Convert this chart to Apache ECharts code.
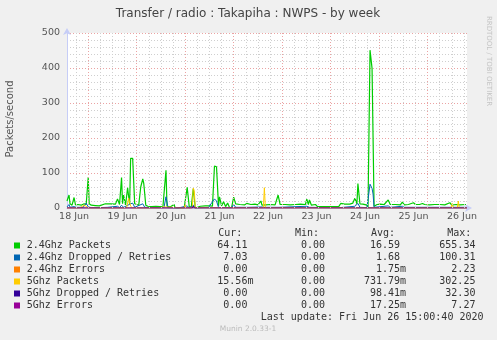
<!DOCTYPE html>
<html>
<head>
<meta charset="utf-8">
<script src="https://cdn.jsdelivr.net/npm/echarts@6/dist/echarts.min.js"></script>
<style>
  html, body { margin: 0; padding: 0; background: #f0f0f0; }
  #chart { width: 497px; height: 340px; }
</style>
</head>
<body>
<div id="chart"></div>
<script>
// x is hours from the left edge of the plot (30 min per pixel, week view)
const dayLabels = ['18 Jun', '19 Jun', '20 Jun', '21 Jun', '22 Jun', '23 Jun', '24 Jun', '25 Jun', '26 Jun']
const dayLabelHours = [3.5, 27.5, 51.5, 75.5, 99.5, 123.5, 147.5, 171.5, 195.5]

// [hour, packets/s]
const pkts24 = [
  [0, 20], [0.5, 22], [1, 37], [1.5, 12], [2.5, 8], [3.5, 30], [4.2, 9], [5.5, 10], [7, 8], [8.5, 12],
  [9.5, 10], [10.5, 88], [11, 12], [12, 8], [14, 7], [16, 6], [16.5, 11], [19, 12], [21.5, 12], [24, 11],
  [25, 26], [26, 10], [27, 87], [27.5, 12], [28, 37], [29, 9], [30, 58], [31, 10], [31.5, 142], [32.5, 142],
  [33.5, 12], [34.5, 10], [35.5, 8], [36.5, 60], [37.5, 83], [38, 70], [39, 8], [40, 5], [42, 4], [44, 5],
  [46, 4], [47.5, 5], [49, 108], [49.5, 5], [51, 3], [53, 10], [53.5, 1], [55, 0], [58, 0], [58.7, 3],
  [59.5, 59], [60.5, 4], [61.5, 2], [62.5, 55], [63.5, 0], [66, 5], [68.5, 6], [71, 6], [72, 5], [73, 120],
  [74, 118], [75, 6], [75.5, 32], [76.5, 6], [77.5, 18], [78.5, 4], [79.5, 14], [80.5, 1], [81.5, 2], [82.5, 31],
  [83.5, 12], [85.5, 10], [88, 9], [89, 13], [91, 10], [93, 11], [94.5, 9], [96, 20], [96.5, 8], [98.5, 9],
  [100.5, 10], [103, 9], [104.5, 37], [105.5, 10], [108, 10], [110.5, 9], [113, 10], [115.5, 11], [118, 10], [118.7, 25],
  [119.5, 10], [120, 23], [121, 8], [123, 10], [124, 4], [128, 4], [131, 4], [134.5, 4], [135.5, 13], [137.5, 11],
  [140, 11], [141.5, 14], [142.5, 28], [143.5, 12], [144, 70], [145, 12], [146.5, 11], [148.5, 8], [149, 0], [150, 451],
  [151, 399], [151.5, 396], [152, 5], [153.5, 10], [155, 11], [157, 10], [159, 23], [160, 10], [162.5, 10], [165, 9],
  [166, 17], [167, 9], [169, 10], [171.5, 15], [172.5, 10], [174.5, 10], [176, 13], [177, 10], [179.5, 9], [182, 10],
  [184.5, 10], [187, 9], [189.5, 15], [190.5, 8], [192.5, 10], [194.5, 9], [197.5, 10]
]
const drop24 = [
  [0, 3], [0.5, 8], [1, 10], [1.5, 2], [3.5, 4], [4, 6], [4.5, 2], [8, 2], [9.5, 14], [10.5, 3],
  [12, 1], [16, 1], [20, 2], [25, 5], [26, 1], [27, 8], [28, 2], [31.5, 12], [32.5, 14], [33.5, 2],
  [37.5, 12], [38.5, 2], [42, 1], [48, 1], [49, 32], [50, 1], [55, 0], [59.5, 6], [60.5, 0], [62.5, 8],
  [63.5, 0], [70, 1], [73, 26], [74, 20], [75, 2], [76, 1], [81.5, 1], [82.5, 10], [83.5, 2], [90, 2],
  [96.5, 3], [97.5, 2], [105, 2], [118.7, 5], [120, 2], [130, 1], [135, 1], [142.5, 5], [144, 13], [145, 2],
  [148.5, 1], [150, 68], [151, 56], [151.5, 40], [152, 2], [159, 6], [160, 2], [166, 5], [167, 2], [180, 2],
  [190, 2], [197.5, 2]
]
const err24 = [[0, 0], [60, 0], [62.5, 1], [63, 0], [198, 0]]
const pkts5 = [
  [0, 0], [6, 0], [7, 3], [8.5, 8], [9.5, 5], [10.5, 0], [29.5, 0], [30.5, 28], [31.5, 5], [32.5, 0],
  [45, 0], [45.5, 3], [48, 3], [48.5, 0], [58, 0], [58.5, 8], [59, 0], [62, 0], [62.5, 57], [63, 50],
  [63.5, 0], [97.2, 0], [97.7, 58], [98.2, 0], [190, 0], [190.7, 13], [191.3, 0], [193.2, 0], [193.7, 20], [194.2, 0],
  [198, 0]
]
const drop5 = [
  [0, 0], [30, 0], [30.5, 4], [31, 0], [62, 0], [62.5, 6], [63, 0], [97.2, 0], [97.7, 4], [98.2, 0],
  [149.5, 0], [150, 3], [150.5, 0], [198, 0]
]
const err5 = [[0, 0], [198, 0]]

const seriesNames = ['2.4Ghz Packets', '2.4Ghz Dropped / Retries', '2.4Ghz Errors', '5Ghz Packets', '5Ghz Dropped / Retries', '5Ghz Errors']
const curVals = ['64.11', '7.03', '0.00', '15.56m', '0.00', '0.00']
const minVals = ['0.00', '0.00', '0.00', '0.00', '0.00', '0.00']
const avgVals = ['16.59', '1.68', '1.75m', '731.79m', '98.41m', '17.25m']
const maxVals = ['655.34', '100.31', '2.23', '302.25', '32.30', '7.27']

const colors = ['#00cc00', '#0066b3', '#ff8000', '#ffcc00', '#330099', '#990099']
const seriesData = [pkts24, drop24, err24, pkts5, drop5, err5]

const chart = echarts.init(document.getElementById('chart'), null, { renderer: 'canvas' })

// vertical grid: red every day, grey every 6 h
const majorLines = []
const minorLines = []
for (let h = 4.5; h < 198; h += 6) {
  if ((h - 10.5) % 24 === 0) majorLines.push(h)
  else minorLines.push(h)
}

const mono = '10px "DejaVu Sans Mono"'
const txt = '#333'

const fmt = (v, w) => {
  const m = v.endsWith('m')
  const n = m ? v.slice(0, -1) : v
  return n.padStart(w) + (m ? 'm' : '')
}

const graphics = [
  { type: 'text', x: 248, y: 14, style: { text: 'Transfer / radio : Takapiha : NWPS - by week', font: '12px "DejaVu Sans"', fill: '#444', align: 'center', verticalAlign: 'middle' } },
  { type: 'text', x: 10.5, y: 119, rotation: Math.PI / 2, style: { text: 'Packets/second', font: '10px "DejaVu Sans"', fill: '#555', align: 'center', verticalAlign: 'middle' } },
  { type: 'text', x: 489, y: 61, rotation: -Math.PI / 2, style: { text: 'RRDTOOL / TOBI OETIKER', font: '7px "DejaVu Sans"', fill: '#c4c4c4', align: 'center', verticalAlign: 'middle' } },
  { type: 'text', x: 218.3, y: 233.3, style: { text: 'Cur:', font: mono, fill: txt, verticalAlign: 'middle' } },
  { type: 'text', x: 295, y: 233.3, style: { text: 'Min:', font: mono, fill: txt, verticalAlign: 'middle' } },
  { type: 'text', x: 371, y: 233.3, style: { text: 'Avg:', font: mono, fill: txt, verticalAlign: 'middle' } },
  { type: 'text', x: 447.3, y: 233.3, style: { text: 'Max:', font: mono, fill: txt, verticalAlign: 'middle' } },
  { type: 'text', x: 483.5, y: 317.3, style: { text: 'Last update: Fri Jun 26 15:00:40 2020', font: mono, fill: txt, align: 'right', verticalAlign: 'middle' } },
  { type: 'text', x: 248, y: 329.5, style: { text: 'Munin 2.0.33-1', font: '7.5px "DejaVu Sans"', fill: '#bbbbbb', align: 'center', verticalAlign: 'middle' } }
]
seriesNames.forEach((name, i) => {
  const y = 245.5 + i * 12
  graphics.push(
    { type: 'rect', shape: { x: 14, y: y - 3, width: 6, height: 6 }, style: { fill: colors[i] } },
    { type: 'text', x: 26.7, y: y, style: { text: name, font: mono, fill: txt, verticalAlign: 'middle' } },
    { type: 'text', x: 217.3, y: y, style: { text: fmt(curVals[i], 5), font: mono, fill: txt, verticalAlign: 'middle' } },
    { type: 'text', x: 295, y: y, style: { text: fmt(minVals[i], 5), font: mono, fill: txt, verticalAlign: 'middle' } },
    { type: 'text', x: 364, y: y, style: { text: fmt(avgVals[i], 6), font: mono, fill: txt, verticalAlign: 'middle' } },
    { type: 'text', x: 439.3, y: y, style: { text: fmt(maxVals[i], 6), font: mono, fill: txt, verticalAlign: 'middle' } }
  )
})

const gridSeries = {
  type: 'line',
  data: [],
  z: 1,
  silent: true,
  markLine: {
    silent: true,
    symbol: ['none', 'none'],
    label: { show: false },
    animation: false,
    data: [
      ...minorLines.map(h => ({ xAxis: h, lineStyle: { color: '#cfcfcf', width: 1, type: [1, 2] } })),
      ...majorLines.map(h => ({ xAxis: h, lineStyle: { color: '#eba3a3', width: 1, type: [1, 2] } }))
    ]
  }
}

const lineSeries = seriesData.map((d, i) => ({
  name: seriesNames[i],
  type: 'line',
  data: d,
  z: 3,
  symbol: 'none',
  animation: false,
  lineStyle: { color: colors[i], width: i === 0 ? 1.2 : 1, opacity: i === 5 ? 0.55 : 1 }
}))

var option = {
  backgroundColor: '#f0f0f0',
  animation: false,
  grid: {
    left: 67, right: 30, top: 33, bottom: 132,
    show: true, backgroundColor: '#ffffff', borderWidth: 0
  },
  xAxis: {
    type: 'value',
    min: 0,
    max: 198,
    splitLine: { show: false },
    axisTick: { show: false },
    axisLine: {
      show: true,
      symbol: ['none', 'arrow'],
      symbolSize: [6, 7],
      symbolOffset: [0, 5],
      lineStyle: { color: '#c6cdf7', width: 1 }
    },
    axisLabel: {
      customValues: dayLabelHours,
      formatter: v => dayLabels[dayLabelHours.indexOf(v)] || '',
      margin: 4,
      color: '#555',
      fontFamily: 'DejaVu Sans',
      fontSize: 9.5
    }
  },
  yAxis: {
    type: 'value',
    min: 0,
    max: 500,
    interval: 100,
    axisTick: { show: false },
    minorTick: { show: false, splitNumber: 5 },
    axisLine: {
      show: true,
      symbol: ['none', 'arrow'],
      symbolSize: [6, 7],
      symbolOffset: [0, 5],
      lineStyle: { color: '#c6cdf7', width: 1 }
    },
    splitLine: { show: true, lineStyle: { color: '#eba3a3', width: 1, type: [1, 2] } },
    minorSplitLine: { show: true, lineStyle: { color: '#cfcfcf', width: 1, type: [1, 2] } },
    axisLabel: {
      margin: 7,
      color: '#555',
      fontFamily: 'DejaVu Sans',
      fontSize: 9.5
    }
  },
  graphic: graphics,
  series: [gridSeries, ...lineSeries]
}

chart.setOption(option)
</script>
</body>
</html>
